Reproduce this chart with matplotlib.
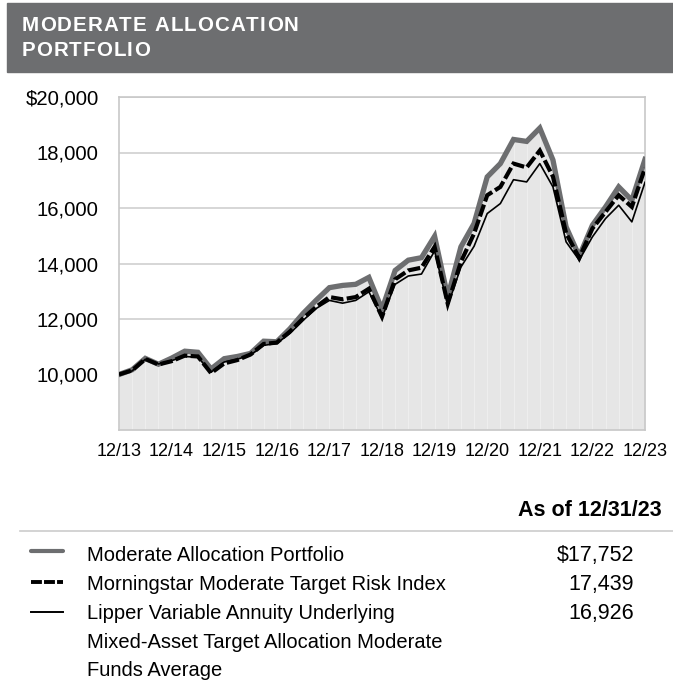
import matplotlib
matplotlib.use("Agg")
import matplotlib.pyplot as plt
from matplotlib.lines import Line2D
from matplotlib.patches import Rectangle

plt.rcParams['font.family'] = ['Liberation Sans', 'DejaVu Sans']

# ---- data (quarterly, 12/13 .. 12/23) ----
portfolio = [10000, 10170, 10580, 10370, 10590, 10840, 10800, 10200, 10570, 10650,
             10760, 11200, 11180, 11650, 12200, 12680, 13130, 13210, 13250, 13500,
             12350, 13750, 14120, 14210, 14980, 12800, 14600, 15440, 17120, 17600,
             18470, 18400, 18880, 17730, 15320, 14260, 15380, 16040, 16760, 16280, 17752]
morningstar = [10000, 10150, 10560, 10360, 10480, 10680, 10650, 10050, 10400, 10520,
               10720, 11100, 11150, 11550, 12020, 12440, 12790, 12710, 12790, 13090,
               12080, 13430, 13750, 13850, 14600, 12550, 14060, 15080, 16460, 16760,
               17600, 17460, 18070, 17130, 15090, 14200, 15260, 15860, 16460, 16040, 17439]
lipper = [10000, 10130, 10550, 10380, 10500, 10650, 10620, 10080, 10450, 10550,
          10700, 11050, 11120, 11480, 11950, 12380, 12670, 12570, 12670, 12980,
          12050, 13250, 13550, 13620, 14450, 12480, 13870, 14620, 15800, 16160,
          17020, 16940, 17600, 16760, 14780, 14120, 14960, 15620, 16100, 15500, 16926]
x_labels = ['12/13', '12/14', '12/15', '12/16', '12/17', '12/18', '12/19',
            '12/20', '12/21', '12/22', '12/23']
y_ticks = [10000, 12000, 14000, 16000, 18000, 20000]
y_labels = ['10,000', '12,000', '14,000', '16,000', '18,000', '$20,000']
title_lines = ['MODERATE ALLOCATION', 'PORTFOLIO']
series_names = [['Moderate Allocation Portfolio'],
                ['Morningstar Moderate Target Risk Index'],
                ['Lipper Variable Annuity Underlying',
                 'Mixed-Asset Target Allocation Moderate',
                 'Funds Average']]
end_values = ['$17,752', '17,439', '16,926']

W, H = 673, 681
fig = plt.figure(figsize=(W / 100, H / 100), dpi=100)
renderer = fig.canvas.get_renderer()

def fx(px):
    return px / W

def fy(py):
    return 1 - py / H

GRAY = '#6d6e70'

def spaced_text(x_px, y_px, s, tracking_px, **kw):
    """Draw text with extra letter spacing (in pixels)."""
    probe = fig.text(0, 0, 'a a', **kw)
    probe2 = fig.text(0, 0, 'aa', **kw)
    space_w = (probe.get_window_extent(renderer).width
               - probe2.get_window_extent(renderer).width)
    probe.remove()
    probe2.remove()
    cur = x_px
    for ch in s:
        if ch == ' ':
            w = space_w
        else:
            t = fig.text(fx(cur), fy(y_px), ch, **kw)
            w = t.get_window_extent(renderer).width
        cur += w + tracking_px

# header band
fig.patches.append(Rectangle((fx(7), fy(71.5)), 1 - fx(7), fy(3.3) - fy(71.5),
                             transform=fig.transFigure, color=GRAY, zorder=0))
title_kw = dict(color='white', fontsize=14.8, fontweight='bold', va='baseline', ha='left')
spaced_text(21.5, 31, title_lines[0], 1.1, **title_kw)
spaced_text(21.5, 55.5, title_lines[1], 1.1, **title_kw)

# chart axes
ax = fig.add_axes([fx(119), fy(430), fx(645) - fx(119), fy(97) - fy(430)])
n = len(portfolio)
xs = list(range(n))
ax.set_xlim(0, n - 1)
ax.set_ylim(8000, 20000)

for yt in y_ticks:
    ax.axhline(yt, color='#cfcfcf', lw=1.2, zorder=1)

ax.fill_between(xs, 8000, portfolio, color='#e6e6e6', lw=0, zorder=2)
ax.vlines(xs[1:-1], 8000, portfolio[1:-1], color='#eeeeee', lw=0.8, zorder=2.5)

ax.plot(xs, portfolio, color=GRAY, lw=3.8, zorder=3, solid_joinstyle='miter')
ax.plot(xs, morningstar, color='black', lw=3.0, zorder=4, dashes=(3, 0.8),
        dash_joinstyle='miter')
ax.plot(xs, lipper, color='black', lw=1.2, zorder=5)

ax.set_yticks(y_ticks)
ax.set_yticklabels(y_labels, fontsize=14.6)
ax.set_xticks(range(0, n, 4))
ax.set_xticklabels(x_labels, fontsize=13)
ax.tick_params(length=0)
ax.tick_params(axis='y', pad=14.5)
ax.tick_params(axis='x', pad=9)
for s in ax.spines.values():
    s.set_color('#c8c8c8')
    s.set_linewidth(1.2)

# legend table
fig.text(fx(662), fy(510), 'As of 12/31/23', fontsize=15.5, fontweight='bold',
         ha='right', va='center')
fig.add_artist(Line2D([fx(20), 1], [fy(531), fy(531)], color='#cccccc', lw=1.2))

row_base = [561, 590, 619]
line_step = 28.7
sym_y = [551, 581.5, 612]
styles = [dict(color=GRAY, lw=3.0, solid_capstyle='round'),
          dict(color='black', lw=2.8, dashes=(2.8, 0.55), dash_capstyle='butt'),
          dict(color='black', lw=1.4)]
for lines, val, yb, ys, st in zip(series_names, end_values, row_base, sym_y, styles):
    fig.add_artist(Line2D([fx(31), fx(63)], [fy(ys), fy(ys)], **st))
    for k, ln in enumerate(lines):
        fig.text(fx(87), fy(yb + k * line_step), ln, fontsize=14.5,
                 ha='left', va='baseline')
    fig.text(fx(634), fy(yb), val, fontsize=15.5, ha='right', va='baseline')

fig.savefig('out.png', dpi=100)
